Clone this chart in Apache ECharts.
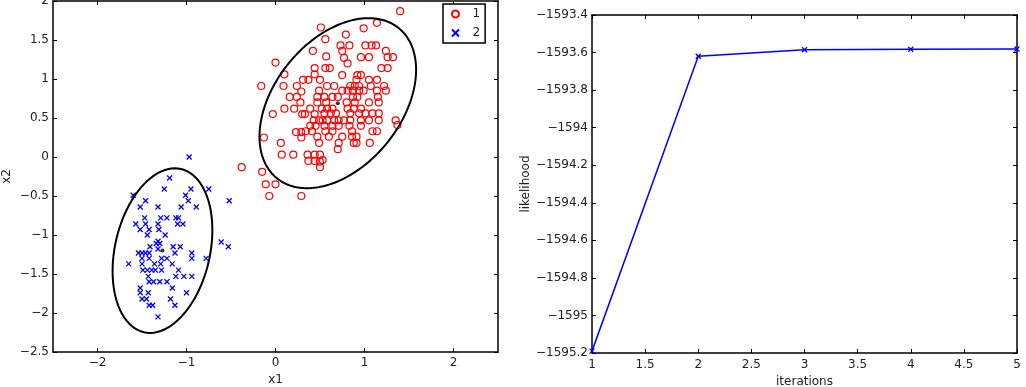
<!DOCTYPE html>
<html>
<head>
<meta charset="utf-8">
<script src="https://cdn.jsdelivr.net/npm/echarts@6/dist/echarts.min.js"></script>
<style>
  html, body { margin: 0; padding: 0; background: #fff; }
  #main { width: 1026px; height: 387px; }
</style>
</head>
<body>
<div id="main"></div>
<script>
// cluster 1 samples (x1, x2)
var redPoints = [
  [0.51,1.66],[0.42,1.36],[0.00,1.21],[0.44,1.14],[0.10,1.06],[0.44,1.06],[0.31,0.99],[0.37,0.99],
  [0.50,0.99],[-0.16,0.91],[0.09,0.91],[0.24,0.91],[0.29,0.84],[0.16,0.77],[0.24,0.77],[0.47,0.77],
  [0.28,0.70],[0.47,0.70],[0.10,0.62],[0.21,0.62],[0.39,0.62],[-0.03,0.55],[0.30,0.55],[0.33,0.55],
  [0.44,0.55],[0.43,0.47],[0.49,0.47],[0.39,0.40],[0.45,0.40],[0.34,0.33],[0.41,0.33],[0.23,0.32],
  [0.29,0.32],[0.29,0.25],[-0.13,0.25],[0.06,0.18],[0.49,0.18],[0.07,0.03],[0.20,0.03],[0.36,0.03],
  [0.44,0.03],[0.50,0.03],[0.37,-0.05],[0.44,-0.05],[0.50,-0.06],[-0.38,-0.13],[0.50,-0.13],[-0.15,-0.19],
  [-0.11,-0.35],[0.00,-0.35],[-0.07,-0.50],[0.29,-0.50],
  [1.40,1.87],[1.14,1.72],[0.99,1.65],[0.79,1.57],[0.56,1.51],[0.73,1.43],[0.83,1.43],[1.01,1.43],
  [1.08,1.43],[1.13,1.43],[0.75,1.36],[1.24,1.36],[0.57,1.29],[0.77,1.27],[0.96,1.28],[1.05,1.28],
  [1.26,1.28],[1.32,1.28],[0.81,1.20],[0.56,1.14],[0.61,1.14],[1.19,1.14],[1.26,1.14],[0.75,1.05],
  [0.92,1.05],[0.96,1.05],[0.91,0.99],[1.05,0.99],[1.14,0.99],[0.58,0.91],[0.66,0.91],[0.84,0.91],
  [0.89,0.91],[0.94,0.91],[1.07,0.91],[1.22,0.91],[0.49,0.85],[0.75,0.85],[0.81,0.85],[0.87,0.85],
  [0.94,0.85],[0.99,0.85],[1.14,0.85],[1.24,0.85],[0.55,0.77],[0.64,0.77],[0.70,0.77],[0.87,0.77],
  [0.92,0.77],[1.15,0.77],[0.57,0.70],[0.80,0.70],[0.89,0.70],[1.05,0.70],[1.16,0.70],[0.52,0.62],
  [0.58,0.62],[0.64,0.62],[0.81,0.62],[0.88,0.62],[0.96,0.62],[0.55,0.56],[0.62,0.56],[0.68,0.56],
  [0.84,0.56],[0.94,0.56],[1.01,0.56],[1.09,0.56],[1.16,0.56],[0.53,0.47],[0.58,0.47],[0.66,0.47],
  [0.71,0.47],[0.77,0.47],[0.84,0.47],[0.96,0.47],[1.05,0.47],[1.16,0.47],[1.35,0.47],[0.55,0.40],
  [0.64,0.40],[0.71,0.40],[0.83,0.40],[0.96,0.40],[1.37,0.41],[0.56,0.33],[0.64,0.33],[0.86,0.33],
  [1.09,0.33],[1.14,0.33],[0.47,0.26],[0.60,0.26],[0.75,0.26],[0.86,0.26],[0.91,0.26],[0.71,0.18],
  [0.88,0.18],[0.91,0.18],[1.06,0.18],[0.70,0.10],[0.53,-0.04]
];

// cluster 2 samples
var bluePoints = [
  [-0.97,0.00],[-1.19,-0.27],[-1.25,-0.41],[-0.95,-0.41],[-0.75,-0.41],[-1.60,-0.49],[-1.01,-0.49],
  [-1.46,-0.56],[-0.98,-0.56],[-0.52,-0.56],[-1.52,-0.64],[-1.32,-0.64],[-1.06,-0.64],[-0.89,-0.64],
  [-1.47,-0.78],[-1.29,-0.78],[-1.22,-0.78],[-1.12,-0.78],[-1.09,-0.78],[-1.57,-0.86],[-1.46,-0.86],
  [-1.32,-0.86],[-1.10,-0.86],[-1.04,-0.86],[-1.52,-0.93],[-1.42,-0.93],[-1.31,-0.93],[-1.44,-1.00],
  [-1.24,-1.00],[-1.32,-1.08],[-1.34,-1.11],[-1.30,-1.11],[-1.41,-1.15],[-1.15,-1.15],[-1.07,-1.15],
  [-1.54,-1.23],[-1.50,-1.23],[-1.46,-1.23],[-1.42,-1.23],[-1.32,-1.18],[-1.13,-1.23],[-0.94,-1.23],
  [-0.61,-1.09],[-0.53,-1.15],[-1.65,-1.37],[-1.50,-1.30],[-1.42,-1.30],[-1.28,-1.30],[-1.22,-1.30],
  [-0.94,-1.30],[-0.78,-1.30],[-1.50,-1.37],[-1.36,-1.37],[-1.29,-1.37],[-1.16,-1.37],[-1.49,-1.45],
  [-1.44,-1.45],[-1.39,-1.45],[-1.35,-1.45],[-1.28,-1.45],[-1.09,-1.45],[-1.43,-1.53],[-1.12,-1.53],
  [-1.03,-1.53],[-0.94,-1.53],[-1.42,-1.60],[-1.37,-1.60],[-1.30,-1.60],[-1.22,-1.60],[-1.16,-1.68],
  [-1.52,-1.68],[-1.52,-1.74],[-1.43,-1.74],[-1.00,-1.74],[-1.50,-1.82],[-1.45,-1.82],[-1.18,-1.82],
  [-1.42,-1.90],[-1.38,-1.90],[-1.13,-1.90],[-1.32,-2.05]
];

// fitted gaussians: means and contour shape matrices
var redMean = [0.70, 0.69];
var redShape = [[0.774, 0.377], [0.377, 1.188]];
var blueMean = [-1.27, -1.20];
var blueShape = [[0.314, 0.147], [0.147, 1.113]];

// EM log likelihood per iteration
var iterations = [1, 2, 3, 4, 5];
var likelihood = [-1595.19, -1593.62, -1593.585, -1593.582, -1593.581];

var scatterXTicks = [-2, -1, 0, 1, 2];

function ellipse(mean, shape, n) {
  var l11 = Math.sqrt(shape[0][0]);
  var l21 = shape[1][0] / l11;
  var l22 = Math.sqrt(shape[1][1] - l21 * l21);
  var pts = [];
  for (var i = 0; i <= n; i++) {
    var t = 2 * Math.PI * i / n;
    pts.push([mean[0] + l11 * Math.cos(t), mean[1] + l21 * Math.cos(t) + l22 * Math.sin(t)]);
  }
  return pts;
}

function minus(v) {
  v = +(+v).toFixed(2);
  return (v < 0 ? '\u2212' : '') + Math.abs(v);
}

var font = 'DejaVu Sans';
var black = '#000';
var tick = { show: true, inside: true, length: 4, lineStyle: { color: black, width: 1 } };
var line = { show: true, onZero: false, lineStyle: { color: black, width: 1.5 } };
var label = { color: '#222', fontFamily: font, fontSize: 12 };

function box(extra) {
  return Object.assign({
    type: 'value', axisLine: line, splitLine: { show: false }, axisTick: tick,
    axisLabel: Object.assign({ show: false }, label)
  }, extra);
}

var myChart = echarts.init(document.getElementById('main'));

option = {
  animation: false,
  backgroundColor: '#fff',
  textStyle: { fontFamily: font },
  grid: [
    { left: 53, top: 1, width: 445, height: 351, outerBoundsMode: 'none' },
    { left: 592, top: 15, width: 425, height: 338, outerBoundsMode: 'none' }
  ],
  legend: {
    data: ['1', '2'],
    orient: 'vertical',
    left: 443, top: 4,
    padding: [3, 5, 3, 8],
    itemWidth: 24, itemHeight: 7, itemGap: 5,
    borderColor: black, borderWidth: 1.5,
    backgroundColor: '#fff',
    textStyle: { color: '#222', fontFamily: font, fontSize: 12, lineHeight: 14 }
  },
  xAxis: [
    box({ gridIndex: 0, min: -2.5, max: 2.5, name: 'x1', nameLocation: 'middle', nameGap: 21,
      nameTextStyle: label,
      axisTick: Object.assign({ customValues: scatterXTicks }, tick),
      axisLabel: Object.assign({ show: true, margin: 5, customValues: scatterXTicks, formatter: minus }, label) }),
    box({ gridIndex: 0, position: 'top', min: -2.5, max: 2.5,
      axisTick: Object.assign({ customValues: scatterXTicks }, tick) }),
    box({ gridIndex: 1, min: 1, max: 5, interval: 0.5, name: 'iterations', nameLocation: 'middle', nameGap: 21,
      nameTextStyle: label,
      axisLabel: Object.assign({ show: true, margin: 6, formatter: minus }, label) }),
    box({ gridIndex: 1, position: 'top', min: 1, max: 5, interval: 0.5 })
  ],
  yAxis: [
    box({ gridIndex: 0, min: -2.5, max: 2, interval: 0.5, name: 'x2', nameLocation: 'middle', nameGap: 40,
      nameTextStyle: label,
      axisLabel: Object.assign({ show: true, margin: 4, formatter: minus }, label) }),
    box({ gridIndex: 0, position: 'right', min: -2.5, max: 2, interval: 0.5 }),
    box({ gridIndex: 1, min: -1595.2, max: -1593.4, interval: 0.2, name: 'likelihood', nameLocation: 'middle', nameGap: 60,
      nameTextStyle: label,
      axisLabel: Object.assign({ show: true, margin: 4, formatter: minus }, label) }),
    box({ gridIndex: 1, position: 'right', min: -1595.2, max: -1593.4, interval: 0.2 })
  ],
  series: [
    {
      name: '1', type: 'scatter', xAxisIndex: 0, yAxisIndex: 0, silent: true,
      symbol: 'circle', symbolSize: 7,
      itemStyle: { color: 'rgba(255,255,255,0)', borderColor: '#ff0000', borderWidth: 1.2, opacity: 1 },
      data: redPoints
    },
    {
      name: '2', type: 'scatter', xAxisIndex: 0, yAxisIndex: 0, silent: true,
      symbol: 'path://M0,0L10,10M10,0L0,10', symbolSize: 5,
      itemStyle: { color: '#0000ff', borderColor: '#0000ff', borderWidth: 1.3, opacity: 1 },
      data: bluePoints
    },
    {
      name: 'ellipse1', type: 'line', xAxisIndex: 0, yAxisIndex: 0, silent: true,
      showSymbol: false, lineStyle: { color: black, width: 2 },
      data: ellipse(redMean, redShape, 180)
    },
    {
      name: 'ellipse2', type: 'line', xAxisIndex: 0, yAxisIndex: 0, silent: true,
      showSymbol: false, lineStyle: { color: black, width: 2 },
      data: ellipse(blueMean, blueShape, 180)
    },
    {
      name: 'means', type: 'scatter', xAxisIndex: 0, yAxisIndex: 0, silent: true,
      symbolSize: 4, itemStyle: { color: black },
      data: [redMean, blueMean]
    },
    {
      name: 'likelihood', type: 'line', xAxisIndex: 2, yAxisIndex: 2, silent: true,
      symbol: 'path://M0,0L10,10M10,0L0,10', symbolSize: 5, showAllSymbol: true,
      lineStyle: { color: '#0000ff', width: 1.5 },
      itemStyle: { color: '#0000ff', borderColor: '#0000ff', borderWidth: 1.3 },
      data: iterations.map(function (it, i) { return [it, likelihood[i]]; })
    }
  ]
};

myChart.setOption(option);
</script>
</body>
</html>
